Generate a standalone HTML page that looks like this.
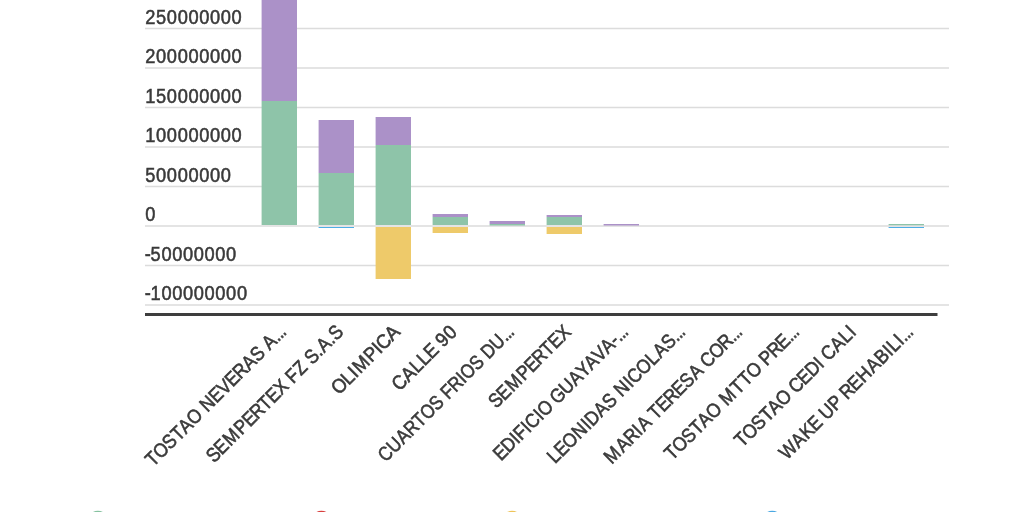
<!DOCTYPE html><html><head><meta charset="utf-8"><title>Chart</title><style>html,body{margin:0;padding:0;background:#fff;width:1024px;height:512px;overflow:hidden}svg{display:block;will-change:transform}text{font-family:"Liberation Sans",sans-serif;fill:#3a3a3a;stroke:#3a3a3a}.y{stroke-width:0.55px}.x{stroke-width:0.6px}</style></head><body>
<svg width="1024" height="512" viewBox="0 0 1024 512">
<rect x="145" y="27.75" width="804" height="1.5" fill="#dcdcdc"/>
<rect x="145" y="67.25" width="804" height="1.5" fill="#dcdcdc"/>
<rect x="145" y="106.75" width="804" height="1.5" fill="#dcdcdc"/>
<rect x="145" y="146.25" width="804" height="1.5" fill="#dcdcdc"/>
<rect x="145" y="185.75" width="804" height="1.5" fill="#dcdcdc"/>
<rect x="145" y="225.25" width="804" height="1.5" fill="#dcdcdc"/>
<rect x="145" y="264.75" width="804" height="1.5" fill="#dcdcdc"/>
<rect x="145" y="304.25" width="804" height="1.5" fill="#dcdcdc"/>
<text class="y" transform="translate(145 23.9) scale(0.9200 1)" x="0.35 12.06 23.78 35.50 47.23 58.94 70.67 82.39 94.12" y="0" font-size="19.842">250000000</text>
<text class="y" transform="translate(145 63.4) scale(0.9200 1)" x="0.35 12.06 23.78 35.50 47.23 58.94 70.67 82.39 94.12" y="0" font-size="19.842">200000000</text>
<text class="y" transform="translate(145 102.9) scale(0.9200 1)" x="0.35 12.06 23.78 35.50 47.23 58.94 70.67 82.39 94.12" y="0" font-size="19.842">150000000</text>
<text class="y" transform="translate(145 142.4) scale(0.9200 1)" x="0.35 12.06 23.78 35.50 47.23 58.94 70.67 82.39 94.12" y="0" font-size="19.842">100000000</text>
<text class="y" transform="translate(145 181.9) scale(0.9200 1)" x="0.35 12.06 23.78 35.50 47.23 58.94 70.67 82.39" y="0" font-size="19.842">50000000</text>
<text class="y" transform="translate(145 221.4) scale(0.9200 1)" x="0.35" y="0" font-size="19.842">0</text>
<text class="y" transform="translate(145 260.9) scale(0.9200 1)" x="-0.42 6.10 17.82 29.55 41.26 52.99 64.71 76.44 88.15" y="0" font-size="19.842">-50000000</text>
<text class="y" transform="translate(145 300.4) scale(0.9200 1)" x="-0.42 6.10 17.82 29.55 41.26 52.99 64.71 76.44 88.15 99.87" y="0" font-size="19.842">-100000000</text>
<rect x="261.6" y="-5" width="35.4" height="106" fill="#ab91c8"/>
<rect x="261.6" y="101" width="35.4" height="124" fill="#8ec4a9"/>
<rect x="318.6" y="120" width="35.4" height="53" fill="#ab91c8"/>
<rect x="318.6" y="173" width="35.4" height="52" fill="#8ec4a9"/>
<rect x="318.6" y="227" width="35.4" height="1" fill="#4fade6"/>
<rect x="375.6" y="117" width="35.4" height="28" fill="#ab91c8"/>
<rect x="375.6" y="145" width="35.4" height="80" fill="#8ec4a9"/>
<rect x="375.6" y="227" width="35.4" height="52" fill="#eeca6a"/>
<rect x="432.6" y="214" width="35.4" height="3" fill="#ab91c8"/>
<rect x="432.6" y="217" width="35.4" height="8" fill="#8ec4a9"/>
<rect x="432.6" y="227" width="35.4" height="6" fill="#eeca6a"/>
<rect x="489.6" y="221" width="35.4" height="3" fill="#ab91c8"/>
<rect x="489.6" y="224" width="35.4" height="1.5" fill="#8ec4a9"/>
<rect x="546.6" y="215" width="35.4" height="2" fill="#ab91c8"/>
<rect x="546.6" y="217" width="35.4" height="8" fill="#8ec4a9"/>
<rect x="546.6" y="227" width="35.4" height="7" fill="#eeca6a"/>
<rect x="603.6" y="224" width="35.4" height="1.5" fill="#ab91c8"/>
<rect x="888.6" y="224" width="35.4" height="1.3" fill="#8ec4a9"/>
<rect x="888.6" y="227" width="35.4" height="1" fill="#4fade6"/>
<rect x="145" y="313" width="792.5" height="3" fill="#3e3e3e"/>
<text class="x" transform="translate(287.30 333.1) rotate(-45) scale(0.8882 1)" x="-213.45 -201.60 -186.69 -172.99 -161.30 -148.01 -132.97 -127.01 -112.65 -99.67 -86.69 -74.47 -60.25 -46.84 -33.37 -28.06 -14.42 -9.82 -5.45" y="0" font-size="19.79">TOSTAO NEVERAS A...</text>
<text class="x" transform="translate(344.30 333.1) rotate(-45) scale(0.8866 1)" x="-207.84 -195.30 -181.39 -163.51 -150.57 -138.56 -124.97 -112.96 -100.05 -86.76 -81.40 -68.98 -56.53 -51.30 -38.20 -32.16 -18.42 -13.02" y="0" font-size="19.79">SEMPERTEX FZ S.A.S</text>
<text class="x" transform="translate(401.30 333.1) rotate(-45) scale(0.9259 1)" x="-95.22 -80.36 -69.23 -62.89 -45.69 -32.52 -27.37 -13.35" y="0" font-size="19.79">OLIMPICA</text>
<text class="x" transform="translate(458.30 333.1) rotate(-45) scale(0.9159 1)" x="-90.64 -76.48 -62.94 -51.69 -41.22 -28.83 -23.12 -11.38" y="0" font-size="19.79">CALLE 90</text>
<text class="x" transform="translate(515.30 333.1) rotate(-45) scale(0.8615 1)" x="-212.66 -198.35 -183.47 -170.19 -156.19 -143.91 -128.57 -115.38 -109.77 -97.89 -83.62 -77.91 -62.57 -49.36 -43.73 -29.22 -14.77 -10.02 -5.52" y="0" font-size="19.79">CUARTOS FRIOS DU...</text>
<text class="x" transform="translate(572.30 333.1) rotate(-45) scale(0.8808 1)" x="-121.93 -109.30 -95.29 -77.30 -64.28 -52.19 -38.51 -26.42 -13.42" y="0" font-size="19.79">SEMPERTEX</text>
<text class="x" transform="translate(629.30 333.1) rotate(-45) scale(0.8869 1)" x="-204.78 -192.12 -177.71 -172.11 -159.92 -154.36 -140.00 -134.59 -119.54 -114.46 -99.67 -84.98 -72.44 -59.89 -46.83 -34.05 -20.73 -14.42 -9.82 -5.44" y="0" font-size="19.79">EDIFICIO GUAYAVA-...</text>
<text class="x" transform="translate(686.30 333.1) rotate(-45) scale(0.8886 1)" x="-208.81 -197.99 -185.56 -169.91 -154.91 -149.41 -134.87 -121.47 -108.55 -102.58 -87.58 -82.04 -68.17 -52.67 -40.84 -27.41 -14.40 -9.80 -5.44" y="0" font-size="19.79">LEONIDAS NICOLAS...</text>
<text class="x" transform="translate(743.30 333.1) rotate(-45) scale(0.8876 1)" x="-209.63 -191.45 -178.32 -164.25 -157.49 -144.52 -139.09 -127.09 -114.86 -101.54 -89.03 -75.04 -62.04 -56.73 -42.85 -28.24 -14.43 -9.83 -5.46" y="0" font-size="19.79">MARIA TERESA COR...</text>
<text class="x" transform="translate(800.30 333.1) rotate(-45) scale(0.8907 1)" x="-203.15 -191.34 -176.47 -162.80 -151.16 -137.90 -122.89 -116.49 -98.57 -85.65 -73.81 -58.81 -53.22 -40.36 -27.08 -14.37 -9.79 -5.43" y="0" font-size="19.79">TOSTAO MTTO PRE...</text>
<text class="x" transform="translate(857.30 333.1) rotate(-45) scale(0.8958 1)" x="-181.60 -169.86 -155.07 -141.48 -129.90 -116.72 -101.77 -96.57 -82.99 -70.46 -56.15 -50.60 -45.38 -30.91 -17.09 -5.68" y="0" font-size="19.79">TOSTAO CEDI CALI</text>
<text class="x" transform="translate(914.30 333.1) rotate(-45) scale(0.8907 1)" x="-202.16 -183.49 -169.74 -156.90 -144.27 -139.04 -124.55 -111.45 -106.56 -93.29 -79.96 -64.65 -50.95 -37.47 -31.53 -20.06 -14.37 -9.79 -5.43" y="0" font-size="19.79">WAKE UP REHABILI...</text>
<circle cx="97.9" cy="521.85" r="11" fill="#86c2a0"/>
<circle cx="321.4" cy="521.85" r="11" fill="#d8403f"/>
<circle cx="512" cy="521.85" r="11" fill="#eec45a"/>
<circle cx="772.2" cy="521.85" r="11" fill="#4aa8e2"/>
</svg></body></html>
